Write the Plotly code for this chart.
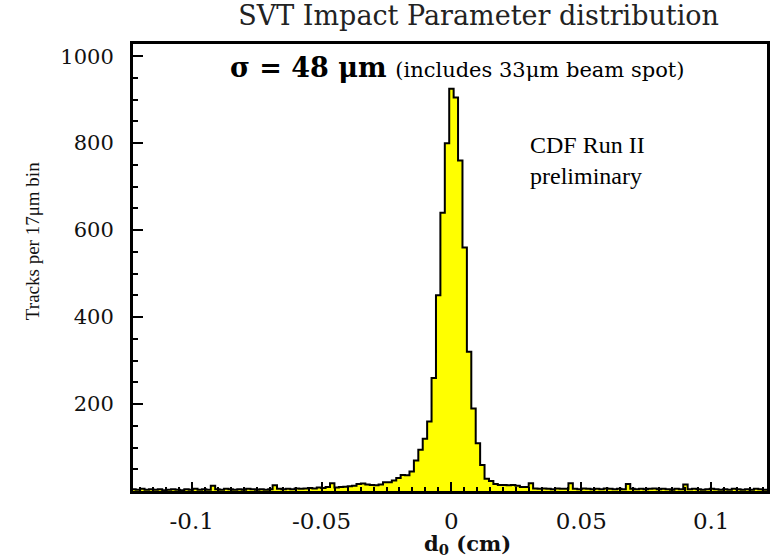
import numpy as np
import plotly.graph_objects as go

# ---- data ----
bin_width = 0.0017          # cm (17 um bins)
first_edge = -0.12325       # cm, left edge of the first bin

left_tail = [4, 3, 5, 3, 4,
             3, 4, 2, 3, 4, 3, 2, 4, 3, 5,
             3, 4, 3, 12, 4, 3, 5, 4, 3, 4,
             3, 5, 4, 3, 4, 3, 4, 13, 5, 4,
             5, 4, 6, 5, 6, 7, 6, 8, 7, 9,
             18, 8, 9, 10, 11, 12, 16, 17, 15, 14,
             13, 15, 20, 20, 24, 30]
core = [37, 36, 45, 70, 95, 120, 160, 260, 450, 640, 800,
        925,
        905, 760, 560, 320, 190, 110, 60, 28, 23, 16, 14]
right_tail = [14, 13, 14, 12, 9, 9, 18, 6, 5, 6,
              5, 4, 6, 5, 5, 18, 5, 4, 6, 5,
              4, 5, 4, 6, 5, 4, 5, 4, 16, 5,
              4, 5, 4, 5, 6, 4, 5, 4, 3, 5,
              4, 15, 4, 5, 4, 3, 4, 5, 4, 3,
              4, 3, 5, 4, 3, 4,
              3, 5, 4, 3]
counts = left_tail + core + right_tail

x_tick_vals = [-0.1, -0.05, 0, 0.05, 0.1]
x_tick_text = ["-0.1", "-0.05", "0", "0.05", "0.1"]
y_tick_vals = [200, 400, 600, 800, 1000]
y_tick_text = ["200", "400", "600", "800", "1000"]

# ---- figure ----
edges = first_edge + bin_width * np.arange(len(counts) + 1)
ys = counts + [counts[-1]]

fig = go.Figure()
fig.add_trace(go.Scatter(
    x=edges, y=ys, mode="lines", line=dict(shape="hv", color="black", width=2),
    fill="tozeroy", fillcolor="#ffff00", showlegend=False, hoverinfo="skip"))

serif = "DejaVu Serif"
fig.update_layout(
    width=772, height=559,
    margin=dict(l=133, r=2, t=44, b=68),
    paper_bgcolor="white", plot_bgcolor="white",
    showlegend=False,
    title=dict(text="SVT Impact Parameter distribution", x=0.62, xanchor="center",
               y=0.972, yanchor="middle",
               font=dict(family=serif, size=27, color="#222")),
)
fig.update_xaxes(
    range=[-0.1226, 0.1215], showgrid=False, zeroline=False,
    showline=True, linecolor="black", linewidth=3, mirror=True,
    ticks="inside", ticklen=9, tickwidth=2, tickcolor="black",
    tickvals=x_tick_vals, ticktext=x_tick_text,
    tickfont=dict(family=serif, size=23, color="#111"),
    ticklabelstandoff=7,
    minor=dict(dtick=0.005, ticks="inside", ticklen=4, tickwidth=2, tickcolor="black"),
)
fig.update_yaxes(
    range=[0, 1028], showgrid=False, zeroline=False,
    showline=True, linecolor="black", linewidth=3, mirror=True,
    ticks="inside", ticklen=10, tickwidth=2, tickcolor="black",
    tickvals=y_tick_vals, ticktext=y_tick_text,
    tickfont=dict(family=serif, size=21, color="#111"),
    ticklabelstandoff=12,
    minor=dict(dtick=50, ticks="inside", ticklen=5, tickwidth=2, tickcolor="black"),
)

fig.add_annotation(
    x=0.002, y=975, xref="x", yref="y", showarrow=False, xanchor="center",
    text="<b>σ = 48 μm</b> <span style='font-size:21px'>(includes 33μm beam spot)</span>",
    font=dict(family=serif, size=27, color="black"))
fig.add_annotation(
    x=0.0295, y=759, xref="x", yref="y", showarrow=False, xanchor="left", align="left",
    yanchor="middle", text="CDF Run II<br>preliminary",
    font=dict(family="Liberation Serif", size=24, color="black"))
fig.add_annotation(
    x=0.006, y=0, xref="x", yref="paper", showarrow=False, xanchor="center", yanchor="top",
    yshift=-38, text="<b>d<sub>0</sub> (cm)</b>",
    font=dict(family=serif, size=21, color="#111"))
fig.add_annotation(
    x=0, y=0.559, xref="paper", yref="paper", showarrow=False, xanchor="center",
    yanchor="middle", xshift=-101, textangle=-90, text="Tracks per 17μm bin",
    font=dict(family="Liberation Serif", size=19, color="#111"))

fig.write_html("out.html")
